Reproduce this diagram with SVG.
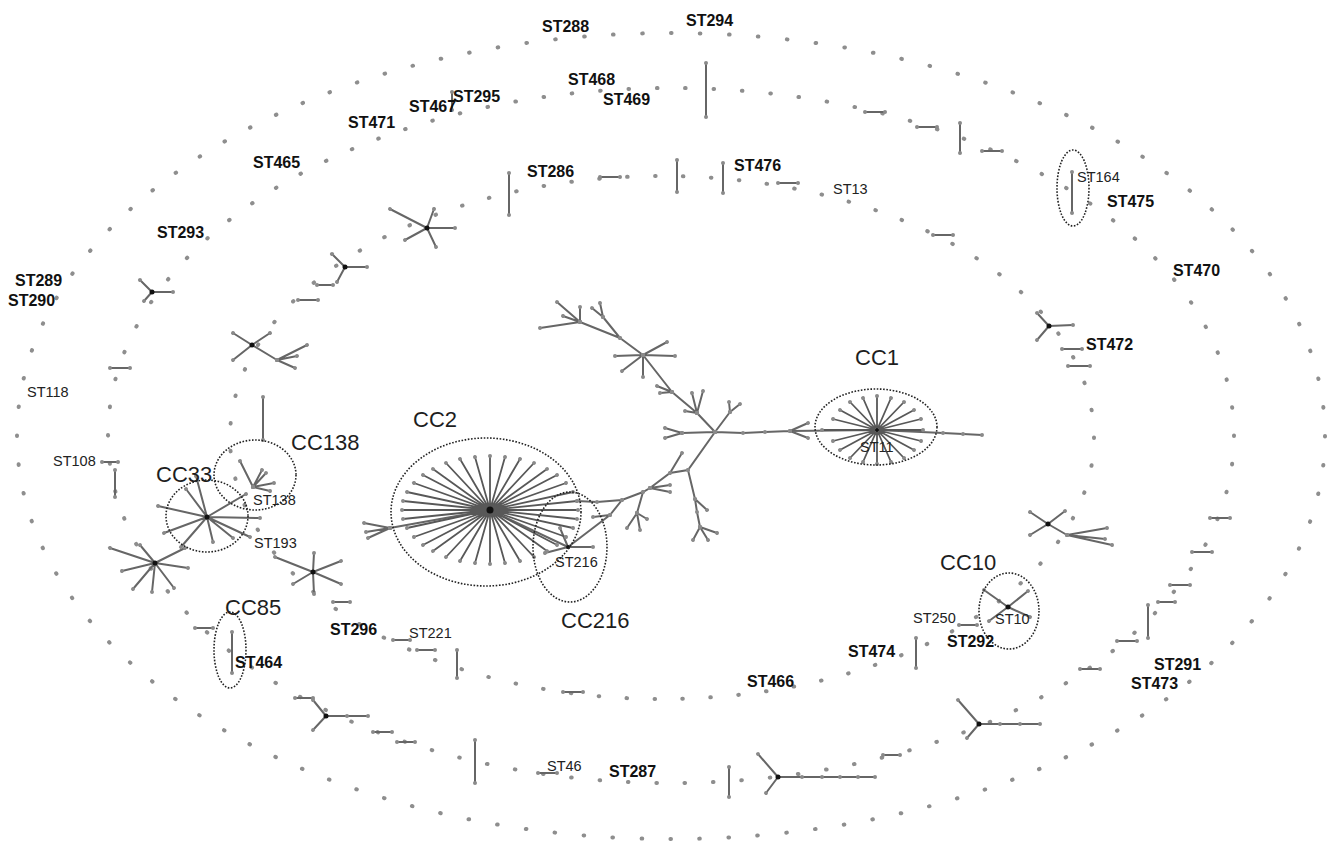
<svg xmlns="http://www.w3.org/2000/svg" width="1334" height="848" viewBox="0 0 1334 848">
<style>
.ring{fill:none;stroke:#8e8e8e;stroke-width:4;stroke-linecap:round;stroke-dasharray:0.02 0.98}
.e{fill:none;stroke:#666;stroke-width:2;stroke-linecap:round;marker-start:url(#nd);marker-mid:url(#nd);marker-end:url(#nd)}
.sp{fill:none;stroke:#585858;stroke-width:1.8;stroke-linecap:round;marker-mid:url(#nd);marker-end:url(#nd)}
.hub{fill:#111}
.cl{fill:none;stroke:#222;stroke-width:1.6;stroke-dasharray:1.6 1.6}
.b{font-family:"Liberation Sans",Arial,sans-serif;font-weight:bold;font-size:16px;fill:#111}
.s{font-family:"Liberation Sans",Arial,sans-serif;font-size:14.5px;fill:#222}
.c{font-family:"Liberation Sans",Arial,sans-serif;font-size:22px;fill:#1e1e1e}
</style>
<defs>
<marker id="nd" markerUnits="userSpaceOnUse" markerWidth="6" markerHeight="6" refX="3" refY="3" orient="auto"><circle cx="3" cy="3" r="2" fill="#8a8a8a"/></marker>
</defs>
<rect width="1334" height="848" fill="#fff"/>

<g id="rings">
<ellipse id="ring-outer" class="ring" cx="671" cy="436" rx="654" ry="403" pathLength="116"/>
<ellipse id="ring-middle" class="ring" cx="671" cy="435.5" rx="563" ry="347.5" pathLength="102"/>
<ellipse id="ring-inner" class="ring" cx="662" cy="437.5" rx="432" ry="261.5" pathLength="79"/>
</g>

<g id="connectors">
<path id="ed-small" class="e" d="M706 63L706 117M865 112L885 112M917 127L937 127M960 123L960 153M982 151L1002 151M1072 172L1072 213M933 235L953 235M509 173L509 215M600 177L620 177M677 160L677 192M723 163L723 193M778 183L798 183M452 92L452 110
M110 368L130 368M263 397L263 440M102 462L118 462M115 470L115 497
M195 628L213 628M232 632L232 673M333 602L350 602M393 640L410 640M417 650L435 650M457 650L457 678M295 698L313 698M373 732L392 732M397 742L415 742M475 740L475 783M538 773L557 773M563 692L583 692M729 767L729 797M883 755L900 755
M959 625L977 625M916 638L916 668M1080 669L1100 669M1117 641L1137 641M1148 605L1148 638M1158 602L1175 602M1210 518L1230 518M1192 552L1212 552M1170 585L1190 585M1062 349L1082 349M1068 366L1090 366
M317 285L333 285M298 300L318 300"/>
<path id="ed-stars" class="e" d="M427 228L390 209M427 228L434 209M427 228L405 240M427 228L436 247M427 228L455 228
M345 267L332 254M345 267L367 267M345 267L337 282
M152 292L140 280M152 292L173 292M152 292L144 301
M252 345L233 333M252 345L270 333M252 345L233 360M252 345L277 360M277 360L307 345M277 360L297 356M277 360L295 368
M240 461L253 487M253 487L266 473M253 487L274 483M253 487L270 491M253 487L262 470
M207 517L158 506M207 517L164 533M207 517L181 547M207 517L196 476M207 517L213 542M207 517L233 538M207 517L250 537M207 517L260 518M207 517L246 494M207 517L186 489
M155 563L110 548M155 563L185 548M155 563L133 589M155 563L174 588M155 563L188 568M155 563L140 545M155 563L152 592M155 563L122 571
M313 572L275 557M313 572L341 561M313 572L341 584M313 572L314 553M313 572L314 594M313 572L293 584
M326 716L313 700M326 716L313 730M326 716L347 716L368 716
M778 777L758 754M778 777L766 793M778 777L802 777L822 777L840 777L858 777L875 777
M1008 607L984 590M1008 607L1028 591M1008 607L989 621M1008 607L1030 617
M979 724L958 700M979 724L967 738M979 724L1000 724L1020 724L1040 724
M1048 524L1030 512M1048 524L1065 511M1048 524L1030 535M1048 524L1067 535M1067 535L1107 528M1067 535L1112 545M1067 535L1105 539
M1049 326L1037 313M1049 326L1037 340M1049 326L1073 325"/>
<path id="ed-tree" class="e" d="M540 328L580 322M580 322L557 302M580 322L563 316M580 322L580 307M580 322L620 338M620 338L603 317M603 317L600 303M603 317L592 308M620 338L643 355
M643 355L615 356M643 355L675 356M643 355L667 342M643 355L622 371M643 355L643 377M643 355L672 392M672 392L657 386M672 392L660 393M672 392L697 413M697 413L685 411M697 413L692 393M697 413L703 391M697 413L715 432
M715 432L682 433M682 433L665 428M682 433L665 438M715 432L730 412M730 412L729 402M730 412L740 404
M715 432L743 433L765 432L790 431L877 430M790 431L808 423M790 431L808 438M877 430L943 433L963 434L982 435
M715 432L688 470L670 473L650 488M670 473L682 453M688 470L695 499L697 512L700 527M695 499L707 510M700 527L693 540M700 527L708 540M700 527L717 533
M650 488L670 485M650 488L670 492M650 488L643 492L622 500L597 502L577 501M643 492L637 513M637 513L627 528M637 513L640 530M637 513L647 519
M622 500L610 515M610 515L593 517M610 515L568 547M568 547L545 553M568 547L593 547M568 547L560 528M568 547L490 510
M490 510L390 528M390 528L364 523M390 528L366 532M390 528L368 538"/>
<path id="ed-cc2" class="sp" d="M490 510L578 510M490 510L577 519M490 510L573 528M490 510L566 537M490 510L557 545M490 510L547 551M490 510L534 557M490 510L520 561M490 510L505 563M490 510L490 564M490 510L475 563M490 510L460 561M490 510L446 557M490 510L433 551M490 510L423 545M490 510L414 537M490 510L407 528M490 510L403 519M490 510L402 510M490 510L403 501M490 510L407 492M490 510L414 483M490 510L423 475M490 510L433 469M490 510L446 463M490 510L460 459M490 510L475 457M490 510L490 456M490 510L505 457M490 510L520 459M490 510L534 463M490 510L547 469M490 510L557 475M490 510L566 483M490 510L573 492M490 510L577 501"/>
<path id="ed-cc1" class="sp" d="M877 430L923 430M877 430L921 441M877 430L914 450M877 430L904 458M877 430L891 462M877 430L877 464M877 430L863 462M877 430L850 458M877 430L840 450M877 430L833 441M877 430L822 430M877 430L833 419M877 430L840 410M877 430L850 402M877 430L863 398M877 430L877 396M877 430L891 398M877 430L904 402M877 430L914 410M877 430L921 419"/>
</g>

<g id="hubs">
<circle class="hub" cx="427" cy="228" r="2.5"/><circle class="hub" cx="345" cy="267" r="2.5"/><circle class="hub" cx="152" cy="292" r="2.5"/><circle class="hub" cx="252" cy="345" r="2.5"/><circle class="hub" cx="207" cy="517" r="2.5"/><circle class="hub" cx="155" cy="563" r="2.5"/><circle class="hub" cx="313" cy="572" r="2.5"/><circle class="hub" cx="326" cy="716" r="2.5"/><circle class="hub" cx="778" cy="777" r="2.5"/><circle class="hub" cx="979" cy="724" r="2.5"/><circle class="hub" cx="1048" cy="524" r="2.5"/><circle class="hub" cx="1049" cy="326" r="2.5"/><circle class="hub" cx="1008" cy="607" r="2.5"/><circle class="hub" cx="490" cy="510" r="3.5"/><circle class="hub" cx="568" cy="547" r="2"/><circle class="hub" cx="877" cy="430" r="2"/>
</g>

<g id="clusters">
<ellipse id="cl-ST164" class="cl" cx="1073" cy="188" rx="16" ry="38"/>
<ellipse id="cl-CC1" class="cl" cx="876" cy="427" rx="61" ry="38"/>
<ellipse id="cl-CC2" class="cl" cx="486" cy="512" rx="95" ry="74"/>
<ellipse id="cl-CC216" class="cl" cx="570" cy="547" rx="37" ry="55"/>
<ellipse id="cl-CC138" class="cl" cx="255" cy="475" rx="41" ry="35"/>
<ellipse id="cl-CC33" class="cl" cx="207" cy="516" rx="41" ry="36"/>
<ellipse id="cl-CC85" class="cl" cx="230" cy="650" rx="16" ry="38"/>
<ellipse id="cl-CC10" class="cl" cx="1009" cy="611" rx="30" ry="38"/>
</g>

<g id="labels-bold">
<g id="n-ST288"><text class="b" x="542" y="32">ST288</text></g>
<g id="n-ST294"><text class="b" x="686" y="26">ST294</text></g>
<g id="n-ST468"><text class="b" x="568" y="85">ST468</text></g>
<g id="n-ST469"><text class="b" x="603" y="105">ST469</text></g>
<g id="n-ST467"><text class="b" x="409" y="112">ST467</text></g>
<g id="n-ST295"><text class="b" x="453" y="102">ST295</text></g>
<g id="n-ST471"><text class="b" x="348" y="128">ST471</text></g>
<g id="n-ST465"><text class="b" x="253" y="168">ST465</text></g>
<g id="n-ST293"><text class="b" x="157" y="238">ST293</text></g>
<g id="n-ST289"><text class="b" x="15" y="286">ST289</text></g>
<g id="n-ST290"><text class="b" x="8" y="306">ST290</text></g>
<g id="n-ST286"><text class="b" x="527" y="177">ST286</text></g>
<g id="n-ST476"><text class="b" x="734" y="171">ST476</text></g>
<g id="n-ST475"><text class="b" x="1107" y="207">ST475</text></g>
<g id="n-ST470"><text class="b" x="1173" y="276">ST470</text></g>
<g id="n-ST472"><text class="b" x="1086" y="350">ST472</text></g>
<g id="n-ST292"><text class="b" x="947" y="647">ST292</text></g>
<g id="n-ST474"><text class="b" x="848" y="657">ST474</text></g>
<g id="n-ST466"><text class="b" x="747" y="687">ST466</text></g>
<g id="n-ST291"><text class="b" x="1154" y="670">ST291</text></g>
<g id="n-ST473"><text class="b" x="1131" y="689">ST473</text></g>
<g id="n-ST287"><text class="b" x="609" y="777">ST287</text></g>
<g id="n-ST296"><text class="b" x="330" y="635">ST296</text></g>
<g id="n-ST464"><text class="b" x="235" y="668">ST464</text></g>
</g>

<g id="labels-small">
<g id="n-ST13"><text class="s" x="833" y="194">ST13</text></g>
<g id="n-ST164"><text class="s" x="1077" y="182">ST164</text></g>
<g id="n-ST118"><text class="s" x="27" y="397">ST118</text></g>
<g id="n-ST108"><text class="s" x="53" y="466">ST108</text></g>
<g id="n-ST138"><text class="s" x="253" y="505">ST138</text></g>
<g id="n-ST193"><text class="s" x="254" y="548">ST193</text></g>
<g id="n-ST216"><text class="s" x="555" y="567">ST216</text></g>
<g id="n-ST11"><text class="s" x="860" y="452">ST11</text></g>
<g id="n-ST250"><text class="s" x="913" y="623">ST250</text></g>
<g id="n-ST10"><text class="s" x="995" y="624">ST10</text></g>
<g id="n-ST221"><text class="s" x="409" y="638">ST221</text></g>
<g id="n-ST46"><text class="s" x="547" y="771">ST46</text></g>
</g>

<g id="labels-cc">
<g id="CC1"><text class="c" x="855" y="365">CC1</text></g>
<g id="CC2"><text class="c" x="413" y="427">CC2</text></g>
<g id="CC138"><text class="c" x="291" y="450">CC138</text></g>
<g id="CC33"><text class="c" x="156" y="482">CC33</text></g>
<g id="CC85"><text class="c" x="225" y="615">CC85</text></g>
<g id="CC216"><text class="c" x="561" y="628">CC216</text></g>
<g id="CC10"><text class="c" x="940" y="570">CC10</text></g>
</g>
</svg>
